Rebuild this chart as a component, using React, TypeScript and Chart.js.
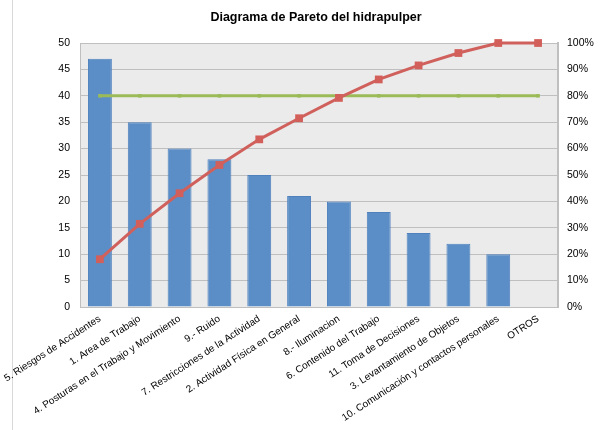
import React, { useEffect, useRef } from "react";
import { Chart, registerables } from "chart.js";

Chart.register(...registerables);

const categories: string[] = [
  "5. Riesgos de Accidentes",
  "1. Area de Trabajo",
  "4. Posturas en el Trabajo y Movimiento",
  "9.- Ruido",
  "7. Restricciones de la Actividad",
  "2. Actividad Física en General",
  "8.- Iluminacion",
  "6. Contenido del Trabajo",
  "11. Toma de Decisiones",
  "3. Levantamiento de Objetos",
  "10. Comunicación y contactos personales",
  "OTROS",
];

const frequency: number[] = [47, 35, 30, 28, 25, 21, 20, 18, 14, 12, 10, 0];
const cumulativePct: number[] = [18.1, 31.5, 43.1, 53.8, 63.5, 71.5, 79.2, 86.2, 91.5, 96.2, 100, 100];
const thresholdPct: number[] = [80, 80, 80, 80, 80, 80, 80, 80, 80, 80, 80, 80];

const titleText = "Diagrama de Pareto del hidrapulper";
const FONT = "'Liberation Sans', 'DejaVu Sans', sans-serif";

export default function App() {
  const ref = useRef<HTMLCanvasElement | null>(null);

  useEffect(() => {
    if (!ref.current) return;
    const bgPlugin = {
      id: "bgPlugin",
      beforeDraw(chart: any) {
        const { ctx, chartArea } = chart;
        ctx.save();
        ctx.fillStyle = "#ffffff";
        ctx.fillRect(0, 0, chart.width, chart.height);
        ctx.strokeStyle = "#d9d9d9";
        ctx.lineWidth = 1;
        ctx.beginPath();
        ctx.moveTo(12.5, 0);
        ctx.lineTo(12.5, chart.height);
        ctx.stroke();
        ctx.fillStyle = "#ebebeb";
        ctx.fillRect(chartArea.left, chartArea.top, chartArea.right - chartArea.left, chartArea.bottom - chartArea.top);
        ctx.restore();
      },
    };

    const chart = new Chart(ref.current, {
      type: "bar",
      data: {
        labels: categories,
        datasets: [
          {
            type: "line",
            label: "80%",
            data: thresholdPct,
            yAxisID: "y2",
            borderColor: "#9bbb59",
            backgroundColor: "#9bbb59",
            borderWidth: 3,
            pointStyle: "rect",
            pointRadius: 2.5,
            pointBorderWidth: 0,
            clip: false,
            order: 1,
          },
          {
            type: "line",
            label: "Acumulado",
            data: cumulativePct,
            yAxisID: "y2",
            borderColor: "#d0605c",
            backgroundColor: "#d35f5a",
            borderWidth: 3,
            pointStyle: "rect",
            pointRadius: 5.5,
            pointBorderWidth: 0,
            clip: false,
            order: 0,
          },
          {
            type: "bar",
            label: "Frecuencia",
            data: frequency,
            yAxisID: "y",
            backgroundColor: "#5b8ec6",
            borderColor: "#4f81bd",
            borderWidth: 1,
            barPercentage: 0.6,
            categoryPercentage: 1,
            order: 2,
          },
        ],
      },
      options: {
        animation: false,
        responsive: false,
        maintainAspectRatio: false,
        layout: { padding: { left: 24, right: 0, top: 0, bottom: 0 } },
        plugins: {
          legend: { display: false },
          tooltip: { enabled: false },
          title: {
            display: true,
            text: titleText,
            color: "#000000",
            font: { family: FONT, size: 12.5, weight: "bold" },
            padding: { top: 10, bottom: 18 },
          },
        },
        scales: {
          x: {
            grid: { display: false, drawTicks: false, tickLength: 0 },
            border: { display: true, color: "#bfbfbf" },
            ticks: {
              color: "#000000",
              font: { family: FONT, size: 10 },
              minRotation: 33,
              maxRotation: 33,
              autoSkip: false,
              padding: 6,
            },
            afterFit(scale: any) {
              scale.height = 123;
              scale.paddingLeft = 0;
              scale.paddingRight = 0;
            },
          },
          y: {
            position: "left",
            min: 0,
            max: 50,
            grid: { color: "#bfbfbf", drawTicks: false },
            border: { display: true, color: "#bfbfbf" },
            ticks: {
              stepSize: 5,
              color: "#000000",
              font: { family: FONT, size: 10.5 },
              padding: 10,
            },
            afterFit(scale: any) {
              scale.width = 56;
            },
          },
          y2: {
            position: "right",
            min: 0,
            max: 100,
            grid: { display: false, drawTicks: false },
            border: { display: true, color: "#bfbfbf", width: 2 },
            ticks: {
              stepSize: 10,
              color: "#000000",
              font: { family: FONT, size: 10.5 },
              callback: (v: any) => v + "%",
              padding: 9,
            },
            afterFit(scale: any) {
              scale.width = 50;
            },
          },
        },
      },
      plugins: [bgPlugin],
    });
    return () => chart.destroy();
  }, []);

  return (
    <div style={{ position: "fixed", left: 0, top: 0, width: 608, height: 430 }}>
      <canvas ref={ref} width={608} height={430} style={{ width: 608, height: 430 }} />
    </div>
  );
}
